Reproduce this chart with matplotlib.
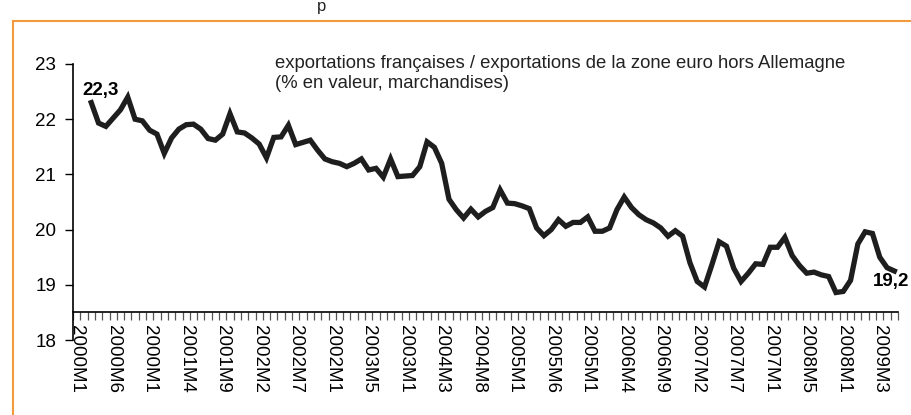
import numpy as np
import matplotlib
matplotlib.use("Agg")
import matplotlib.pyplot as plt
from matplotlib.lines import Line2D

plt.rcParams['font.family'] = ['Liberation Sans', 'DejaVu Sans']

# ---- data ----
categories = [f"{y}M{m}" for y in range(2000, 2010) for m in range(1, 13)][:113]  # 2000M1 .. 2009M5
tick_labels = ["2000M1", "2000M6", "2000M1", "2001M4", "2001M9", "2002M2", "2002M7",
               "2002M1", "2003M5", "2003M1", "2004M3", "2004M8", "2005M1", "2005M6",
               "2005M1", "2006M4", "2006M9", "2007M2", "2007M7", "2007M1", "2008M5",
               "2008M1", "2009M3"]
share = [None, None,
         22.30, 21.93, 21.87, 22.02, 22.17, 22.40, 22.00, 21.97, 21.80, 21.73,
         21.38, 21.66, 21.82, 21.90, 21.91, 21.82, 21.65, 21.62, 21.73, 22.10,
         21.77, 21.75, 21.66, 21.55, 21.30, 21.67, 21.68, 21.89, 21.54, 21.58,
         21.62, 21.44, 21.28, 21.23, 21.20, 21.14, 21.20, 21.28, 21.08, 21.11,
         20.95, 21.28, 20.96, 20.97, 20.98, 21.14, 21.59, 21.49, 21.20, 20.55,
         20.36, 20.21, 20.37, 20.23, 20.33, 20.40, 20.72, 20.48, 20.47, 20.43,
         20.38, 20.03, 19.89, 20.00, 20.18, 20.06, 20.13, 20.13, 20.23, 19.97,
         19.97, 20.03, 20.36, 20.59, 20.40, 20.27, 20.18, 20.12, 20.03, 19.88,
         19.98, 19.88, 19.40, 19.06, 18.96, 19.36, 19.78, 19.70, 19.30, 19.06,
         19.21, 19.38, 19.37, 19.68, 19.68, 19.86, 19.53, 19.35, 19.21, 19.23,
         19.18, 19.15, 18.86, 18.88, 19.08, 19.74, 19.96, 19.93, 19.50, 19.31,
         19.25]
first_label = "22,3"
last_label = "19,2"
note = "exportations françaises / exportations de la zone euro hors Allemagne\n(% en valeur, marchandises)"

# ---- figure ----
W, H = 912, 415
fig = plt.figure(figsize=(W / 100, H / 100), dpi=100)
fig.patch.set_facecolor('white')

x0, x1 = 73, 898
ytop, ybot = 64, 340
ax = fig.add_axes([x0 / W, 1 - ybot / H, (x1 - x0) / W, (ybot - ytop) / H])
ax.set_facecolor('none')

n = len(categories)
xs = np.arange(n) + 0.5
ys = np.array([np.nan if v is None else v for v in share], dtype=float)
ax.plot(xs, ys, color='#1e1e1e', lw=3.8, solid_joinstyle='miter', zorder=3)

ax.set_xlim(0, n)
ax.set_ylim(18, 23)

for s in ['top', 'right']:
    ax.spines[s].set_visible(False)
ax.spines['left'].set_linewidth(1.2)
ax.spines['bottom'].set_position(('data', 18.5))
ax.spines['bottom'].set_linewidth(1.2)

ax.set_yticks([18, 19, 20, 21, 22, 23])
ax.set_yticklabels(['18', '19', '20', '21', '22', '23'])
ax.tick_params(axis='y', direction='out', length=6, width=1.0, pad=6,
               labelsize=13.5, colors='black')

major_pos = xs[::5][:len(tick_labels)]
ax.set_xticks(major_pos)
ax.set_xticklabels(tick_labels, rotation=270, fontsize=13.5)
ax.set_xticks(np.arange(0, n + 1), minor=True)
ax.tick_params(axis='x', which='major', length=0, pad=9)
ax.tick_params(axis='x', which='minor', direction='out', length=6, width=0.9,
               color='#555555')

# data labels
ax.annotate(first_label, xy=(xs[2], ys[2]), xytext=(9, 12), textcoords='offset pixels',
            ha='center', va='center', fontsize=13.5, fontweight='bold')
ax.annotate(last_label, xy=(xs[-1], ys[-1]), xytext=(-3, -11), textcoords='offset pixels',
            ha='center', va='center', fontsize=13.5, fontweight='bold')

# explanatory note
fig.text(275 / W, 1 - 55 / H, note, ha='left', va='top', fontsize=13.3,
         color='#222222', linespacing=1.2)

# orange frame (cropped)
orange = '#F39A3C'
fig.add_artist(Line2D([13 / W, 13 / W], [0, 1 - 21 / H], color=orange, lw=1.5,
                      transform=fig.transFigure))
fig.add_artist(Line2D([13 / W, 1], [1 - 21 / H, 1 - 21 / H], color=orange, lw=1.5,
                      transform=fig.transFigure))

# cropped title remnant
fig.text(322 / W, 1 - 7 / H, "p", ha='center', va='center', fontsize=12, color='#222222')

fig.savefig('out.png', dpi=100, facecolor='white')
